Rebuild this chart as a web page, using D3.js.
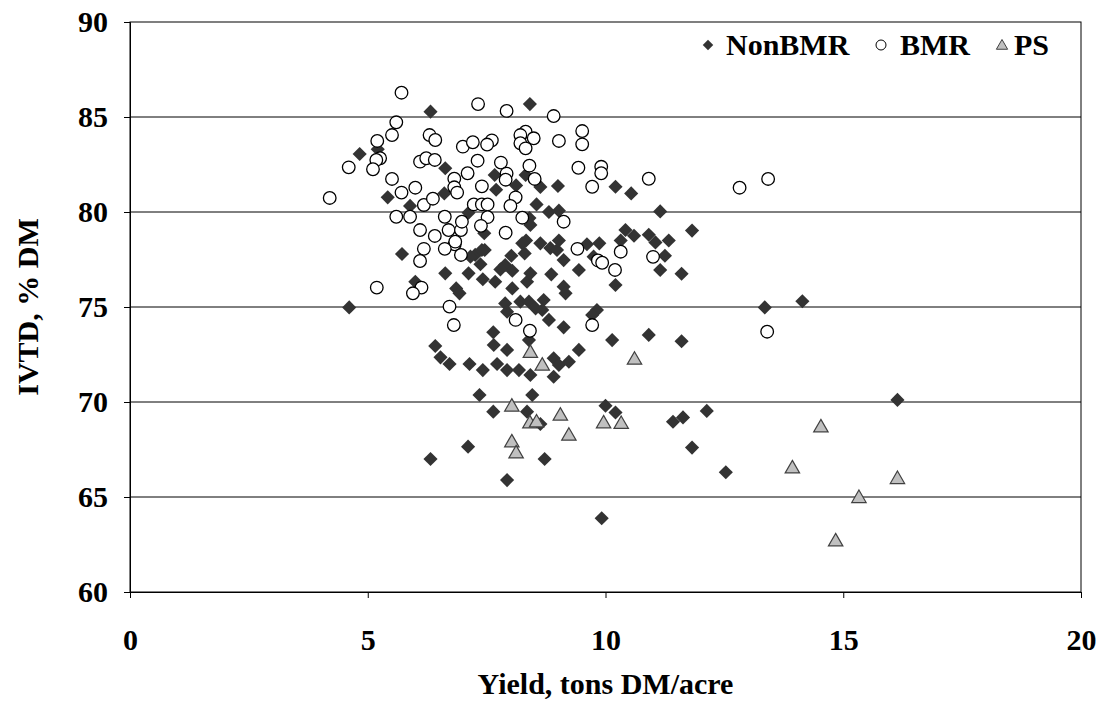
<!DOCTYPE html>
<html>
<head>
<meta charset="utf-8">
<script src="https://cdn.jsdelivr.net/npm/d3@7"></script>
<style>
  body { margin: 0; background: #fff; }
  text { font-family: "Liberation Serif", "Times New Roman", serif; font-weight: bold; }
</style>
</head>
<body>
<svg id="chart" width="1099" height="702"></svg>
<script>
// [yield, IVTD]
const nonBmr = [
  [4.83,83.05],[5.21,83.3],[6.32,85.28],[8.41,85.68],[6.63,82.3],[6.61,80.98],[5.42,80.77],[5.89,80.32],[5.72,77.79],
  [7.67,81.95],[7.7,81.17],[7.12,79.96],[7.45,78.88],[7.46,78.0],[7.26,77.74],[8.12,81.4],[8.32,81.95],[8.63,81.32],
  [9.0,81.37],[10.21,81.33],[10.54,80.98],[11.15,80.03],[8.55,80.4],[8.81,80.0],[9.02,80.07],[8.4,79.68],[8.42,79.32],
  [8.33,78.5],[8.63,78.35],[9.02,78.5],[9.61,78.3],[9.87,78.35],[9.75,77.65],[10.32,78.5],[10.42,79.05],[10.6,78.75],
  [10.91,78.8],[11.05,78.4],[11.33,78.5],[11.82,79.02],[11.25,77.7],[11.15,76.95],[11.6,76.75],[10.21,76.16],[9.12,77.47],
  [8.84,78.1],[8.98,78.0],[8.02,77.7],[8.3,77.82],[8.25,78.35],[7.89,77.21],[7.16,77.65],[7.37,77.25],[7.4,78.0],
  [7.12,76.77],[7.42,76.46],[7.68,76.33],[6.63,76.77],[6.86,75.98],[6.93,75.72],[6.0,76.33],[7.79,76.98],[8.04,76.91],
  [8.04,75.98],[8.35,76.33],[8.42,76.77],[8.86,76.72],[9.44,76.95],[9.12,76.07],[9.16,75.72],
  [4.61,74.98],[7.89,75.19],[8.21,75.28],[8.39,75.28],[8.7,75.37],[8.67,74.84],[8.53,74.93],[8.81,74.32],[9.82,74.84],
  [9.72,74.58],[7.93,74.75],[13.35,74.98],[14.14,75.3],
  [6.42,72.95],[6.53,72.35],[6.72,72.0],[7.14,72.0],[7.42,71.68],[7.64,73.67],[7.65,73.0],[7.72,72.0],[7.35,70.37],
  [7.64,69.49],[7.93,72.74],[8.39,73.26],[9.12,73.93],[9.44,72.74],[10.14,73.26],[10.91,73.53],[11.6,73.2],
  [7.93,71.68],[8.18,71.68],[8.42,71.42],[8.91,72.3],[9.02,71.95],[9.23,72.12],[8.91,71.33],[8.46,70.37],
  [8.35,69.49],[10.0,69.8],[10.21,69.45],[11.42,68.96],[11.63,69.19],[12.13,69.53],[11.82,67.6],[12.53,66.3],[16.14,70.11],
  [8.63,68.84],[7.11,67.65],[6.32,67.0],[8.72,67.0],[7.93,65.89],[9.92,63.88]
];

const bmr = [
  [5.71,86.28],[7.32,85.68],[5.6,84.72],[5.51,84.05],[5.2,83.74],[5.26,82.83],[5.18,82.74],[5.11,82.25],[4.6,82.35],
  [4.2,80.74],[5.51,81.74],[5.71,81.02],[6.0,81.28],[6.18,80.37],[6.37,80.7],[5.6,79.75],[5.89,79.75],[6.1,79.05],
  [6.41,78.74],[6.62,79.75],[6.7,79.05],[6.96,79.05],[6.83,78.3],[6.62,78.06],[6.18,78.06],[6.1,77.42],[6.3,84.05],
  [6.42,83.79],[6.1,82.65],[6.23,82.83],[6.41,82.74],[6.82,81.75],[6.82,81.3],[6.88,81.02],[7.0,83.44],[7.21,83.67],
  [7.61,83.77],[7.51,83.55],[7.1,82.04],[7.31,82.7],[7.4,81.35],[7.23,80.4],[7.4,80.4],[7.52,80.4],[7.52,79.73],
  [7.38,79.27],[6.98,79.49],[6.84,78.44],[6.96,77.74],[7.92,85.32],[8.91,85.05],[8.32,84.23],[8.21,84.05],[8.49,83.88],
  [8.21,83.62],[8.32,83.35],[9.02,83.74],[9.51,84.26],[9.51,83.56],[7.8,82.6],[8.4,82.44],[9.43,82.33],[9.91,82.38],
  [9.91,82.04],[10.91,81.75],[7.92,82.02],[7.9,81.7],[8.51,81.74],[9.72,81.33],[8.11,80.77],[8.0,80.32],[8.25,79.7],
  [9.12,79.49],[7.9,78.91],[9.41,78.06],[10.32,77.91],[11.0,77.64],[9.84,77.45],[9.93,77.33],[10.2,76.95],
  [5.19,76.02],[6.13,76.02],[5.95,75.72],[6.72,75.02],[6.81,74.05],[8.11,74.32],[8.41,73.75],[9.72,74.05],
  [12.82,81.28],[13.42,81.74],[13.4,73.7]
];

const ps = [
  [8.42,72.62],[8.67,71.95],[10.61,72.26],[8.03,69.79],[9.05,69.32],[8.41,68.91],[8.55,68.96],[9.96,68.91],[10.33,68.88],
  [9.23,68.26],[8.03,67.91],[8.12,67.33],[14.53,68.7],[13.93,66.54],[16.14,65.98],[15.33,64.98],[14.84,62.7]
];

const xTicks = [0, 5, 10, 15, 20];
const yTicks = [60, 65, 70, 75, 80, 85, 90];

const svg = d3.select("#chart");
const margin = { top: 22, right: 18, bottom: 110, left: 130 };
const plotWidth = 1099 - margin.left - margin.right;
const plotHeight = 702 - margin.top - margin.bottom;
const fontSize = "30px";

const g = svg.append("g")
  .attr("transform", `translate(${margin.left},${margin.top})`);

const x = d3.scaleLinear().domain([0, 20]).range([0, plotWidth]);
const y = d3.scaleLinear().domain([60, 90]).range([plotHeight, 0]);

// gridlines
g.selectAll(".grid")
  .data(yTicks.slice(1, -1))
  .join("line")
  .attr("x1", 0).attr("x2", plotWidth)
  .attr("y1", d => y(d)).attr("y2", d => y(d))
  .attr("stroke", "#000")
  .attr("stroke-width", 1);

// plot border
g.append("rect")
  .attr("width", plotWidth)
  .attr("height", plotHeight)
  .attr("fill", "none")
  .attr("stroke", "#000")
  .attr("stroke-width", 1);

// axes
const xAxis = g.append("g")
  .attr("transform", `translate(0,${plotHeight})`)
  .call(d3.axisBottom(x).tickValues(xTicks).tickSize(6).tickPadding(31));
const yAxis = g.append("g")
  .call(d3.axisLeft(y).tickValues(yTicks).tickSize(6).tickPadding(16));

[xAxis, yAxis].forEach(a => {
  a.select(".domain").attr("stroke", "#000");
  a.selectAll(".tick line").attr("stroke", "#000");
  a.selectAll(".tick text")
    .attr("font-family", "Liberation Serif, serif")
    .attr("font-weight", "bold")
    .attr("font-size", fontSize)
    .attr("fill", "#000");
});

// markers
const diamond = d3.symbol().type(d3.symbolSquare).size(100);
const triangle = d3.symbol().type(d3.symbolTriangle).size(90);

g.selectAll(".nonbmr")
  .data(nonBmr)
  .join("path")
  .attr("class", "nonbmr")
  .attr("d", diamond)
  .attr("transform", d => `translate(${x(d[0])},${y(d[1])}) rotate(45)`)
  .attr("fill", "#333333");

g.selectAll(".bmr")
  .data(bmr)
  .join("circle")
  .attr("class", "bmr")
  .attr("cx", d => x(d[0]))
  .attr("cy", d => y(d[1]))
  .attr("r", 6.3)
  .attr("fill", "#fff")
  .attr("stroke", "#000")
  .attr("stroke-width", 1.3);

g.selectAll(".ps")
  .data(ps)
  .join("path")
  .attr("class", "ps")
  .attr("d", triangle)
  .attr("transform", d => `translate(${x(d[0])},${y(d[1]) + 1})`)
  .attr("fill", "#c0c0c0")
  .attr("stroke", "#404040")
  .attr("stroke-width", 1.2);

// axis titles
svg.append("text")
  .attr("x", margin.left + plotWidth / 2)
  .attr("y", 694)
  .attr("text-anchor", "middle")
  .attr("font-size", fontSize)
  .text("Yield, tons DM/acre");

svg.append("text")
  .attr("transform", `translate(38,${margin.top + plotHeight / 2}) rotate(-90)`)
  .attr("text-anchor", "middle")
  .attr("font-size", fontSize)
  .text("IVTD, % DM");

// legend
const legend = svg.append("g").attr("transform", "translate(0,45)");
legend.append("path")
  .attr("d", d3.symbol().type(d3.symbolSquare).size(55))
  .attr("transform", "translate(708,0) rotate(45)")
  .attr("fill", "#333333");
legend.append("text").attr("x", 726).attr("y", 10).attr("font-size", fontSize).text("NonBMR");
legend.append("circle")
  .attr("cx", 881).attr("cy", 0).attr("r", 5)
  .attr("fill", "#fff").attr("stroke", "#000").attr("stroke-width", 1);
legend.append("text").attr("x", 900).attr("y", 10).attr("font-size", fontSize).text("BMR");
legend.append("path")
  .attr("d", d3.symbol().type(d3.symbolTriangle).size(55))
  .attr("transform", "translate(1002,1)")
  .attr("fill", "#c0c0c0").attr("stroke", "#404040").attr("stroke-width", 1);
legend.append("text").attr("x", 1014).attr("y", 10).attr("font-size", fontSize).text("PS");
</script>
</body>
</html>
